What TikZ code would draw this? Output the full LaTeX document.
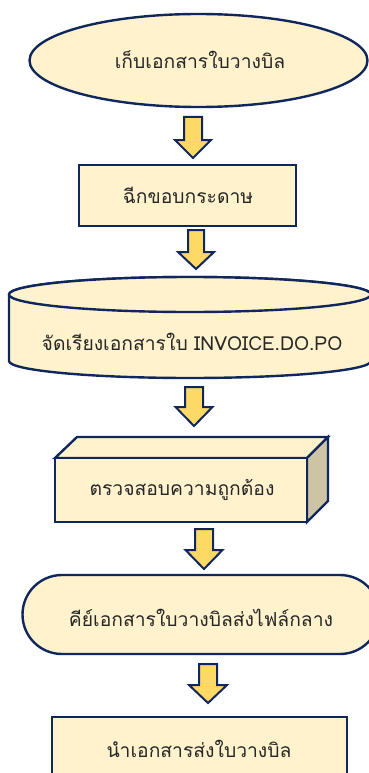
\documentclass[tikz,border=0pt]{standalone}
\usepackage{fontspec}
\newfontfamily\thaifont[Script=Thai]{Loma}
\usetikzlibrary{shapes.geometric}
\definecolor{boxfill}{HTML}{FFF2CC}
\definecolor{navy}{HTML}{10275E}
\definecolor{arrfill}{HTML}{FFD966}
\definecolor{sidefill}{HTML}{CDC3A5}
\definecolor{txt}{HTML}{262626}
\tikzset{
  shapebox/.style={draw=navy, line width=2.4pt, fill=boxfill},
  lbl/.style={font=\thaifont\fontsize{19.3}{21}\selectfont, text=txt, inner sep=0pt},
  blockarr/.style={draw=navy, line width=2pt, fill=arrfill, line join=miter},
}
% \blockarrow{cx}{top}{headstart}{tip}{shafthalf}{headhalf}
\newcommand{\blockarrow}[6]{%
  \draw[blockarr] (#1-#5,#2) -- (#1+#5,#2) -- (#1+#5,#3) -- (#1+#6,#3) -- (#1,#4)
    -- (#1-#6,#3) -- (#1-#5,#3) -- cycle;}
\begin{document}
\begin{tikzpicture}[x=1pt,y=-1pt]
\useasboundingbox (0,0) rectangle (369,773);
\begin{scope}
\clip (0,0) rectangle (369,773);
% 1 ellipse
\node[ellipse, shapebox, minimum width=338pt, minimum height=93pt, inner sep=0pt] (e1) at (198.5,60.5) {};
\node[lbl] (t1) at (200,60) {เก็บเอกสารใบวางบิล};
% arrow 1
\blockarrow{193}{117}{140}{158}{9}{18}
% 2 rectangle
\node[shapebox, minimum width=217pt, minimum height=61pt, inner sep=0pt] (b2) at (187.5,195.5) {};
\node[lbl] (t2) at (188,195) {ฉีกขอบกระดาษ};
% arrow 2
\blockarrow{196}{230}{252}{269}{8}{18}
% 3 cylinder
\coordinate (cyl) at (190,328);
\draw[shapebox] (9,294.5) -- (9,361) arc[start angle=180, end angle=0, x radius=181, y radius=17]
  -- (371,294.5) arc[start angle=0, end angle=-180, x radius=181, y radius=17.5];
\draw[shapebox] (190,294.5) ellipse[x radius=181, y radius=17.5];
\node[lbl] (t3) at (192,342) {จัดเรียงเอกสารใบ INVOICE.DO.PO};
% arrow 3
\blockarrow{194}{387}{407}{426}{9}{18.5}
% 4 cube
\draw[shapebox] (55,458) -- (77,437) -- (328,437) -- (307,458) -- cycle;
\draw[draw=navy, line width=2.4pt, fill=sidefill] (307,458) -- (328,437) -- (328,501) -- (307,522) -- cycle;
\node[shapebox, minimum width=252pt, minimum height=64pt, inner sep=0pt] (b4) at (181,490) {};
\node[lbl] (t4) at (182,490) {ตรวจสอบความถูกต้อง};
% arrow 4
\blockarrow{204}{529}{550}{569}{9}{18.5}
% 5 terminal
\draw[shapebox] (62,575) -- (340,575) arc[start angle=-90, end angle=90, radius=39.5] -- (62,654)
  arc[start angle=90, end angle=270, radius=39.5] -- cycle;
\node[lbl] (t5) at (201,618) {คีย์เอกสารใบวางบิลส่งไฟล์กลาง};
% arrow 5
\blockarrow{208}{664}{685}{703}{9}{19}
% 6 rectangle
\draw[shapebox] (52,790) -- (52,717) -- (347,717) -- (347,790);
\node[lbl] (t6) at (199,749) {นำเอกสารส่งใบวางบิล};
\end{scope}
\end{tikzpicture}
\end{document}
